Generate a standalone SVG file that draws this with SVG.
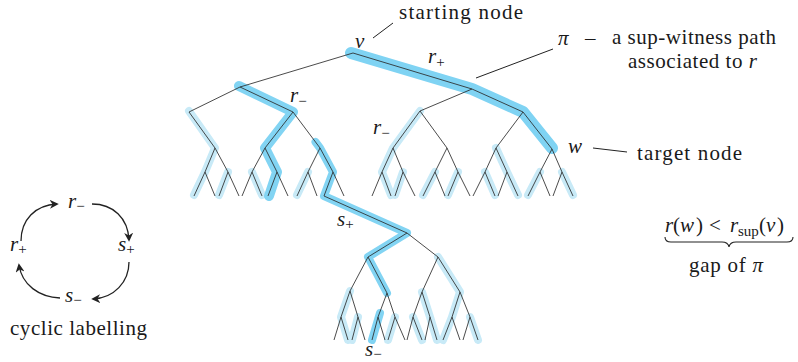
<svg xmlns="http://www.w3.org/2000/svg" width="798" height="362" viewBox="0 0 798 362">
<defs>
<style>
.t{font-size:21px;fill:#1a1a1a}
.i{font-style:italic}
.sub{font-size:15px;font-style:normal}
.edge{fill:none;stroke:#2a2a2a;stroke-width:0.85;stroke-linejoin:miter}
.lead{fill:none;stroke:#222;stroke-width:1}
.hl{fill:none;stroke:#c8eaf7;stroke-width:8;stroke-linecap:round;stroke-linejoin:round}
.hm{fill:none;stroke:#82d4f3;stroke-width:8;stroke-linecap:round;stroke-linejoin:round}
.hk{fill:none;stroke:#7fd3f3;stroke-width:12;stroke-linecap:round;stroke-linejoin:round}
.arc{fill:none;stroke:#222;stroke-width:1.3}
</style>
<marker id="ah" viewBox="0 0 10 10" refX="8" refY="5" markerWidth="9" markerHeight="9" markerUnits="userSpaceOnUse" orient="auto">
<path d="M0,0 L10,5 L0,10 L3,5 z" fill="#222"/>
</marker>
</defs>
<rect width="798" height="362" fill="#ffffff"/>

<g id="highlights">
<path class="hl" d="M189,111 L215,148 L205,172 L194,195 M228,172 L219,195 M252,172 L262,195 M308,172 L297,195"/>
<path class="hl" d="M420,111 L393,148 L382,172 L391,195 M403,172 L395,195 M435,172 L423,195 M458,172 L448,195 M496,148 L507,172 L518,195 M485,172 L495,195 M540,172 L528,195 M562,172 L573,195"/>
<path class="hl" d="M438,257 L460,292 L452,317 L443,340 M350,291 L341,317 L348,340 M358,317 L352,340 M395,317 L388,340 M422,292 L430,317 L437,340 M413,317 L422,340 M470,317 L478,340"/>
<path class="hk" d="M351,53 L472,89 L523,112 L552,148"/>
<path class="hm" style="stroke-width:10" d="M239,86 L293,112 L265,148 L277,172 L269,196"/>
<path class="hm" d="M315.5,142 L320,148 L333,172 L324,196 L407,233 L368,257 L387,293"/>
<path class="hm" d="M380,313 L372,340"/>
</g>

<g id="connectors">
<path class="edge" d="M240,87 L353,53 L472,89 M189,112 L240,87 L293,112 M420,111 L472,89 L523,112 M189,112 L215,148 M265,148 L293,112 L320,148 M393,148 L420,111 L447,148 M496,148 L523,112 L552,149"/>
<path class="edge" d="M205,172 L215,148 L228,172 M194,196 L205,172 L215,196 M219,196 L228,172 L239,196
M252,172 L265,148 L277,172 M242,196 L252,172 L262,196 M268,196 L277,172 L288,196
M308,172 L320,148 L333,172 M297,196 L308,172 L317,196 M324,196 L333,172 L344,196"/>
<path class="edge" d="M382,172 L393,148 L403,172 M372,196 L382,172 L391,196 M395,196 L403,172 L415,196
M435,172 L447,148 L458,172 M423,196 L435,172 L445,196 M448,196 L458,172 L470,196
M485,172 L496,148 L507,172 M473,196 L485,172 L495,196 M498,196 L507,172 L518,196
M540,172 L552,149 L562,172 M528,196 L540,172 L550,196 M553,196 L562,172 L573,196"/>
<path class="edge" d="M324,196 L407,233"/>
<path class="edge" d="M368,257 L407,233 L438,257 M350,291 L368,257 L387,293 M422,292 L438,257 L460,292
M341,317 L350,291 L358,317 M334,340 L341,317 L348,340 M352,340 L358,317 L365,340
M378,317 L387,293 L395,317 M372,340 L378,317 L385,340 M388,340 L395,317 L405,340
M413,317 L422,292 L430,317 M407,340 L413,317 L422,340 M425,340 L430,317 L437,340
M452,317 L460,292 L470,317 M443,340 L452,317 L460,340 M463,340 L470,317 L478,340"/>
<path class="lead" d="M373,38 L393,23 M476,78 L553,49 M593,148 L627,152"/>
</g>

<g id="labels" font-family="Liberation Serif, DejaVu Serif, serif">
<g id="node-v">
<text class="t i" x="355" y="48">v</text>
<text class="t" x="399" y="19" textLength="124" lengthAdjust="spacing">starting node</text>
</g>
<g id="label-r-plus"><text class="t" x="428" y="63"><tspan class="i">r</tspan><tspan class="sub" dy="4">+</tspan></text></g>
<g id="label-r-minus-left"><text class="t" x="290" y="102"><tspan class="i">r</tspan><tspan class="sub" dy="4">−</tspan></text></g>
<g id="label-r-minus-right"><text class="t" x="373" y="134"><tspan class="i">r</tspan><tspan class="sub" dy="4">−</tspan></text></g>
<g id="label-s-plus"><text class="t" x="337" y="226"><tspan class="i">s</tspan><tspan class="sub" dy="3">+</tspan></text></g>
<g id="label-s-minus"><text class="t" x="365" y="356"><tspan class="i">s</tspan><tspan class="sub" dy="3">−</tspan></text></g>
<g id="node-w">
<text class="t i" x="568" y="153">w</text>
<text class="t" x="637" y="160" textLength="105" lengthAdjust="spacing">target node</text>
</g>
<g id="label-pi">
<text class="t i" x="558" y="45">π</text>
<text class="t" x="585" y="45">–</text>
<text class="t" x="612" y="44" textLength="164" lengthAdjust="spacing">a sup-witness path</text>
<text class="t" x="628" y="68" textLength="129" lengthAdjust="spacing">associated to <tspan class="i">r</tspan></text>
</g>

<g id="gap-formula">
<text class="t"><tspan class="i" x="665" y="232">r</tspan><tspan x="673" y="232">(</tspan><tspan class="i" x="680" y="232">w</tspan><tspan x="696" y="232">)</tspan><tspan x="709" y="232">&lt;</tspan><tspan class="i" x="730" y="232">r</tspan><tspan class="sub" x="738" y="236">sup</tspan><tspan x="759" y="232">(</tspan><tspan class="i" x="766" y="232">v</tspan><tspan x="777" y="232">)</tspan></text>
<path class="arc" style="stroke-width:1.1" d="M665,237 Q665,242 671,242 L722,242 Q728,242 729,247 Q730,242 736,242 L787,242 Q793,242 793,237"/>
<text class="t" x="689" y="272" textLength="74" lengthAdjust="spacing">gap of <tspan class="i">π</tspan></text>
</g>

<g id="cycle">
<g id="cyc-r-minus"><text class="t" x="68" y="208"><tspan class="i">r</tspan><tspan class="sub" dy="3">−</tspan></text></g>
<g id="cyc-s-plus"><text class="t" x="118" y="251"><tspan class="i">s</tspan><tspan class="sub" dy="3">+</tspan></text></g>
<g id="cyc-r-plus"><text class="t" x="10" y="251"><tspan class="i">r</tspan><tspan class="sub" dy="3">+</tspan></text></g>
<g id="cyc-s-minus"><text class="t" x="65" y="302"><tspan class="i">s</tspan><tspan class="sub" dy="3">−</tspan></text></g>
<g id="cyc-arrows">
<path class="arc" marker-end="url(#ah)" d="M21,241 C21,220 35,205 57,204"/>
<path class="arc" marker-end="url(#ah)" d="M92,204 C113,204 128,218 129,240"/>
<path class="arc" marker-end="url(#ah)" d="M129,262 C129,282 114,298 93,299"/>
<path class="arc" marker-end="url(#ah)" d="M60,298 C39,297 22,285 19,265"/>
</g>
<text class="t" x="10" y="335" textLength="137" lengthAdjust="spacing">cyclic labelling</text>
</g>
</g>
</svg>
